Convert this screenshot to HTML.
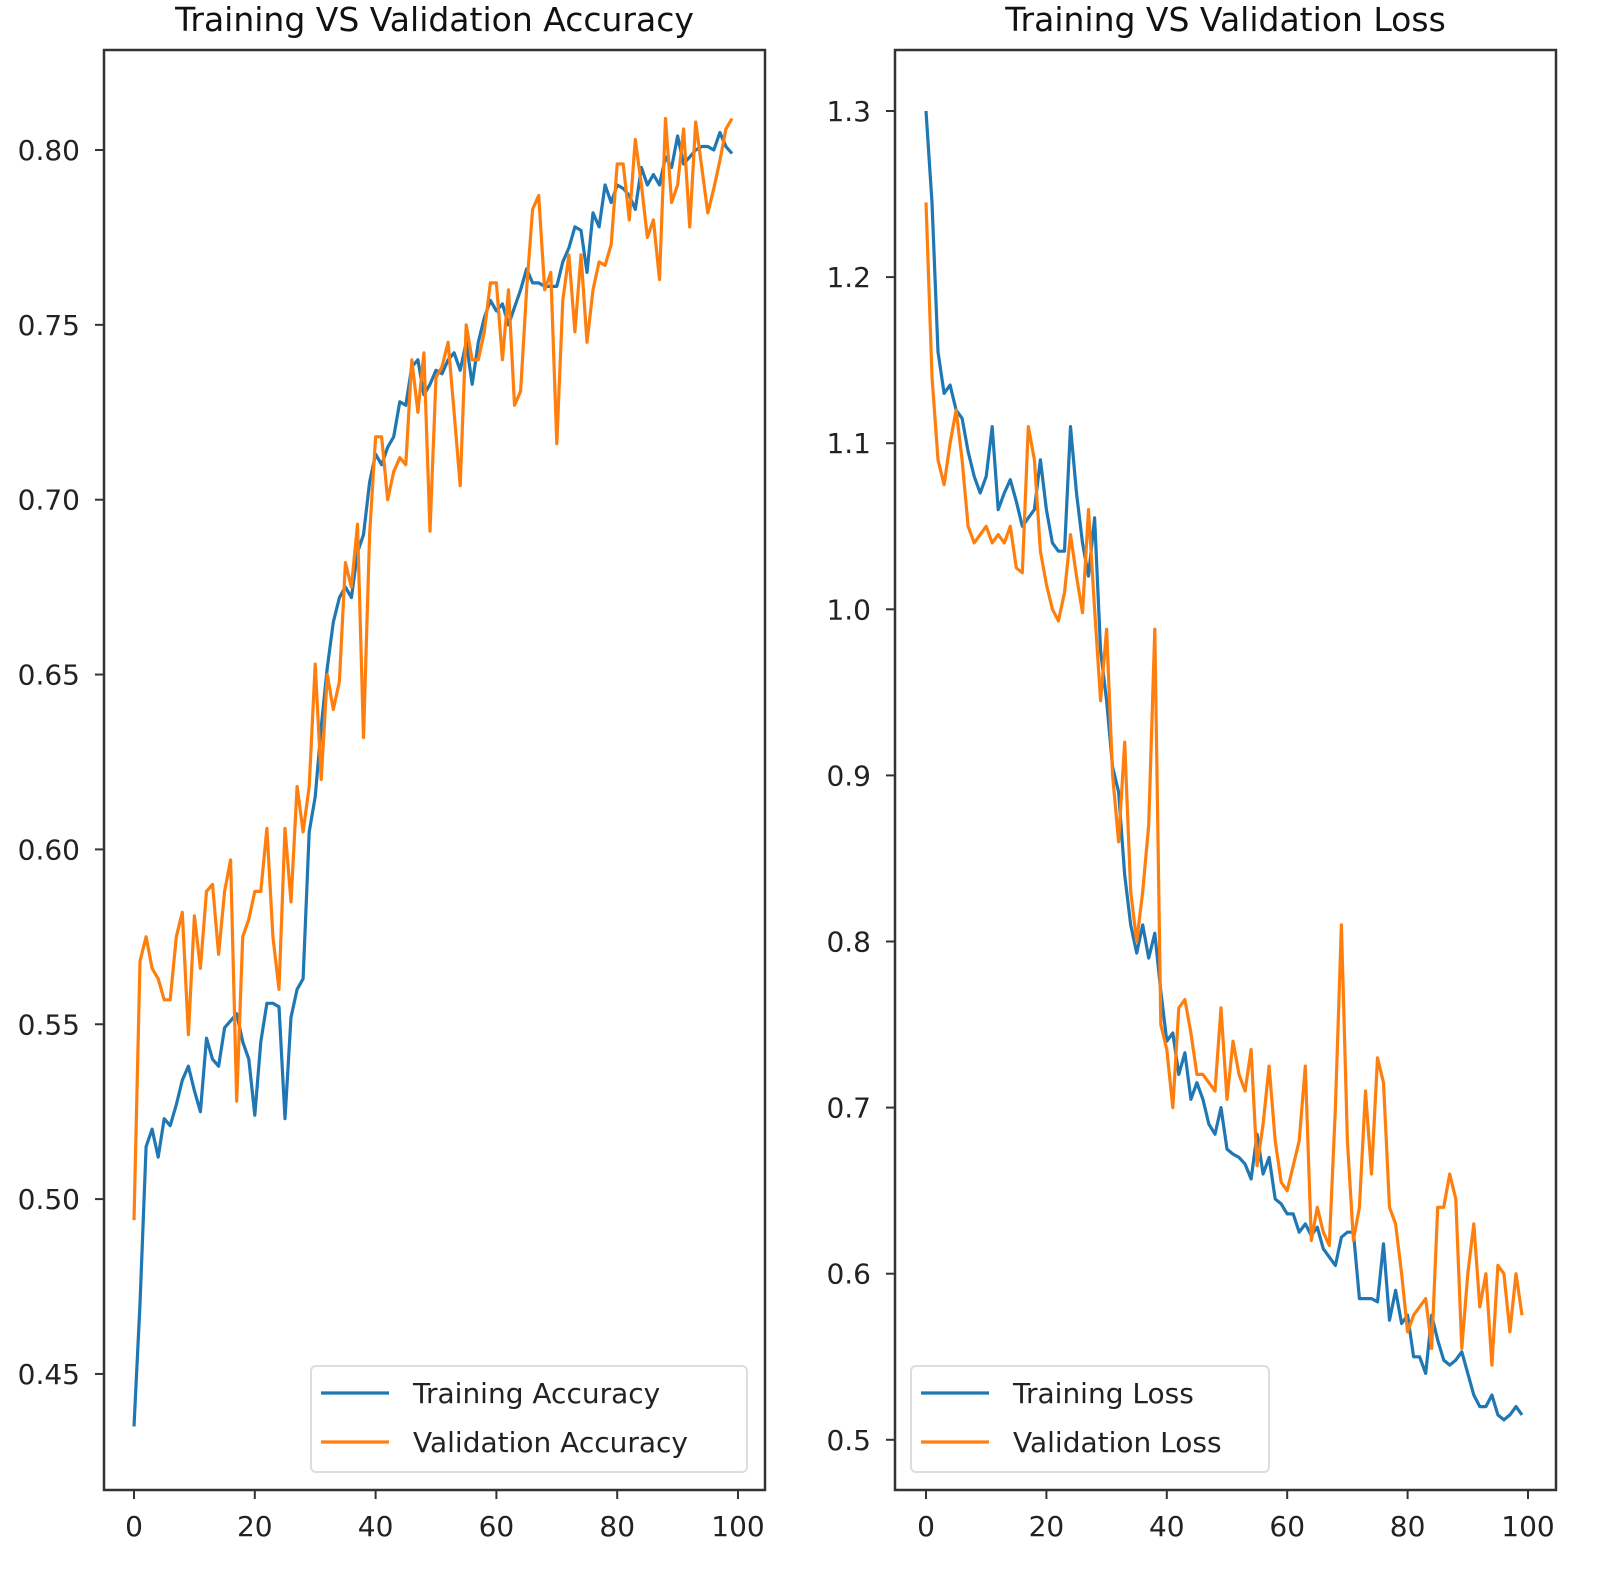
<!DOCTYPE html>
<html><head><meta charset="utf-8"><style>
html,body{margin:0;padding:0;background:#fff;}
svg{display:block;font-family:"DejaVu Sans","Liberation Sans",sans-serif;}
</style></head><body>
<svg id="fig" width="1598" height="1571" viewBox="0 0 1598 1571" xmlns="http://www.w3.org/2000/svg"></svg>
<script>
const epochs = Array.from({length:100},(_,i)=>i);
const trainAcc=[0.435,0.47,0.515,0.52,0.512,0.523,0.521,0.527,0.534,0.538,0.531,0.525,0.546,0.54,0.538,0.549,0.551,0.553,0.545,0.54,0.524,0.545,0.556,0.556,0.555,0.523,0.552,0.56,0.563,0.605,0.615,0.635,0.652,0.665,0.672,0.675,0.672,0.685,0.69,0.705,0.713,0.71,0.715,0.718,0.728,0.727,0.738,0.74,0.73,0.733,0.737,0.736,0.74,0.742,0.737,0.745,0.733,0.745,0.752,0.757,0.754,0.756,0.75,0.755,0.76,0.766,0.762,0.762,0.761,0.761,0.761,0.768,0.772,0.778,0.777,0.765,0.782,0.778,0.79,0.785,0.79,0.789,0.787,0.783,0.795,0.79,0.793,0.79,0.798,0.795,0.804,0.796,0.798,0.8,0.801,0.801,0.8,0.805,0.801,0.799];
const valAcc=[0.494,0.568,0.575,0.566,0.563,0.557,0.557,0.575,0.582,0.547,0.581,0.566,0.588,0.59,0.57,0.588,0.597,0.528,0.575,0.58,0.588,0.588,0.606,0.575,0.56,0.606,0.585,0.618,0.605,0.618,0.653,0.62,0.65,0.64,0.648,0.682,0.675,0.693,0.632,0.69,0.718,0.718,0.7,0.708,0.712,0.71,0.74,0.725,0.742,0.691,0.735,0.738,0.745,0.725,0.704,0.75,0.74,0.74,0.748,0.762,0.762,0.74,0.76,0.727,0.731,0.76,0.783,0.787,0.76,0.765,0.716,0.757,0.77,0.748,0.77,0.745,0.76,0.768,0.767,0.773,0.796,0.796,0.78,0.803,0.79,0.775,0.78,0.763,0.809,0.785,0.79,0.806,0.778,0.808,0.795,0.782,0.789,0.797,0.806,0.809];
const trainLoss=[1.3,1.245,1.155,1.13,1.135,1.12,1.115,1.095,1.08,1.07,1.08,1.11,1.06,1.07,1.078,1.065,1.05,1.055,1.06,1.09,1.06,1.04,1.035,1.035,1.11,1.07,1.04,1.02,1.055,0.975,0.945,0.905,0.89,0.84,0.81,0.793,0.81,0.79,0.805,0.77,0.74,0.745,0.72,0.733,0.705,0.715,0.705,0.69,0.684,0.7,0.675,0.672,0.67,0.666,0.657,0.684,0.66,0.67,0.645,0.642,0.636,0.636,0.625,0.63,0.623,0.628,0.615,0.61,0.605,0.622,0.625,0.625,0.585,0.585,0.585,0.583,0.618,0.572,0.59,0.57,0.575,0.55,0.55,0.54,0.575,0.56,0.548,0.545,0.548,0.553,0.54,0.527,0.52,0.52,0.527,0.515,0.512,0.515,0.52,0.515];
const valLoss=[1.245,1.14,1.09,1.075,1.1,1.12,1.09,1.05,1.04,1.045,1.05,1.04,1.045,1.04,1.05,1.025,1.022,1.11,1.09,1.035,1.015,1.0,0.993,1.01,1.045,1.02,0.998,1.06,1.0,0.945,0.988,0.9,0.86,0.92,0.83,0.8,0.83,0.87,0.988,0.75,0.735,0.7,0.76,0.765,0.745,0.72,0.72,0.715,0.71,0.76,0.705,0.74,0.72,0.71,0.735,0.665,0.69,0.725,0.68,0.655,0.65,0.665,0.68,0.725,0.62,0.64,0.625,0.617,0.7,0.81,0.68,0.62,0.64,0.71,0.66,0.73,0.715,0.64,0.63,0.6,0.565,0.575,0.58,0.585,0.555,0.64,0.64,0.66,0.645,0.555,0.6,0.63,0.58,0.6,0.545,0.605,0.6,0.565,0.6,0.575];
const xTicks=[0,20,40,60,80,100];
const accTicks=[0.45,0.50,0.55,0.60,0.65,0.70,0.75,0.80];
const lossTicks=[0.5,0.6,0.7,0.8,0.9,1.0,1.1,1.2,1.3];

const NS="http://www.w3.org/2000/svg";
const svg=document.getElementById('fig');
function mk(tag,attrs,parent){const e=document.createElementNS(NS,tag);for(const k in attrs)e.setAttribute(k,attrs[k]);(parent||svg).appendChild(e);return e;}

function panel(o){
  const g=mk('g',{});
  
  
  const X=v=>o.x0+(v-o.xv0)*o.xs;
  const Y=v=>o.y0+(v-o.yv0)*o.ys;
  const t=mk('text',{x:(o.L+o.R)/2,y:31,'text-anchor':'middle','font-size':33,fill:'#111'},g);
  t.textContent=o.title;
  
  
  o.series.forEach(s=>{
    const d=s.data.map((v,i)=>(i?'L':'M')+X(epochs[i]).toFixed(1)+','+Y(v).toFixed(1)).join(' ');
    const p=mk('path',{d:d,fill:'none',stroke:s.color,'stroke-width':3.2,'stroke-linejoin':'round'},g);
    
    
  });
  const fr=mk('rect',{x:o.L,y:o.T,width:o.R-o.L,height:o.B-o.T,fill:'none',stroke:'#333','stroke-width':2.5},g);
  
  
  xTicks.forEach(v=>{
    mk('line',{x1:X(v),x2:X(v),y1:o.B,y2:o.B+9,stroke:'#333','stroke-width':2},g);
    const tx=mk('text',{x:X(v),y:o.B+46,'text-anchor':'middle','font-size':28,fill:'#222'},g);
    tx.textContent=String(v);
    
    
  });
  o.yTicks.forEach(v=>{
    mk('line',{x1:o.L-9,x2:o.L,y1:Y(v),y2:Y(v),stroke:'#333','stroke-width':2},g);
    const ty=mk('text',{x:o.L-24,y:Y(v)+10,'text-anchor':'end','font-size':28,fill:'#222'},g);
    ty.textContent=v.toFixed(o.dec);
    
    
  });
  const lg=mk('g',{},g);
  
  
  mk('rect',{x:o.lgx,y:1366,width:o.lgw,height:106,rx:5,fill:'#fff',stroke:'#ddd','stroke-width':2},lg);
  o.series.forEach((s,i)=>{
    const yy=1393+i*49;
    mk('line',{x1:o.lgx+10,x2:o.lgx+78,y1:yy,y2:yy,stroke:s.color,'stroke-width':3.2},lg);
    const lt=mk('text',{x:o.lgx+102,y:yy+10,'font-size':28,fill:'#222'},lg);
    lt.textContent=s.label;
    
    
  });
}
panel({name:'accuracy-chart',title:'Training VS Validation Accuracy',L:104,R:765,T:50,B:1490,
  x0:134,xv0:0,xs:6.04,y0:150,yv0:0.80,ys:-3497,yTicks:accTicks,dec:2,lgx:311,lgw:436,
  series:[{id:'training-accuracy-line',data:trainAcc,color:'#1f77b4',label:'Training Accuracy'},
          {id:'validation-accuracy-line',data:valAcc,color:'#ff7f0e',label:'Validation Accuracy'}]});
panel({name:'loss-chart',title:'Training VS Validation Loss',L:895,R:1556,T:50,B:1490,
  x0:926,xv0:0,xs:6.02,y0:111,yv0:1.3,ys:-1661,yTicks:lossTicks,dec:1,lgx:911,lgw:358,
  series:[{id:'training-loss-line',data:trainLoss,color:'#1f77b4',label:'Training Loss'},
          {id:'validation-loss-line',data:valLoss,color:'#ff7f0e',label:'Validation Loss'}]});
</script>
</body></html>
